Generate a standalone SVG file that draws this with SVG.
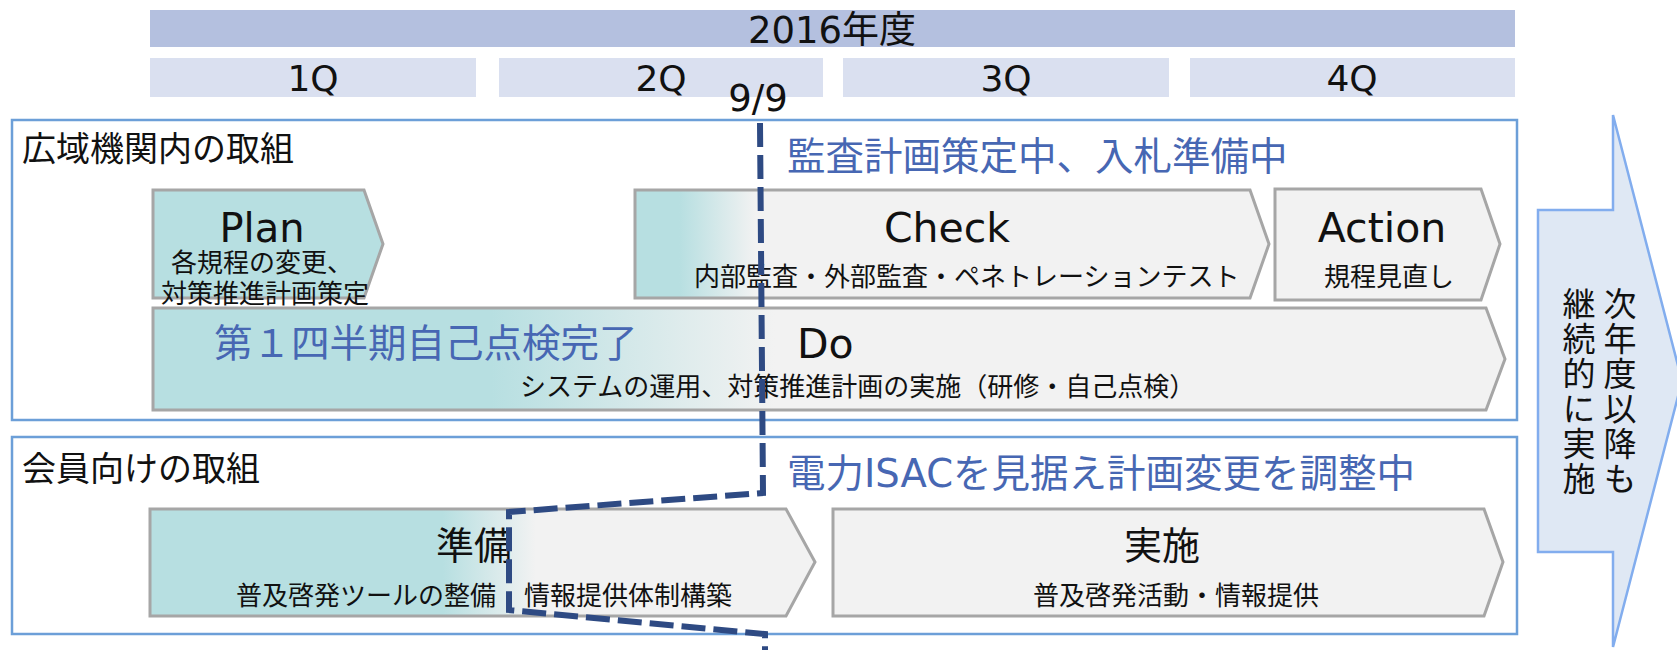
<svg xmlns="http://www.w3.org/2000/svg" width="1677" height="650" viewBox="0 0 1677 650">
<defs>
<style>
.lat{font-family:"DejaVu Sans","Noto Sans CJK JP",sans-serif;fill:#111;}
.jp{font-family:"Noto Sans CJK JP","DejaVu Sans",sans-serif;fill:#111;}
.blue{fill:#4767b3;}
.hdr{fill:#b4c0df;}
.qtr{fill:#dae0f0;}
.frame{fill:#fff;stroke:#6c9fd8;stroke-width:2.5;}
.step{stroke:#a6a6a6;stroke-width:3;stroke-linejoin:miter;}
.mid{text-anchor:middle;}
.vert{writing-mode:vertical-rl;letter-spacing:2px;}
</style>
<linearGradient id="gCheck" gradientUnits="userSpaceOnUse" x1="635" y1="0" x2="1269" y2="0">
<stop offset="0.07" stop-color="#b7dfe1"/>
<stop offset="0.19" stop-color="#f2f2f2"/>
</linearGradient>
<linearGradient id="gDo" gradientUnits="userSpaceOnUse" x1="153" y1="0" x2="1505" y2="0">
<stop offset="0.25" stop-color="#b7dfe1"/>
<stop offset="0.46" stop-color="#f2f2f2"/>
</linearGradient>
<linearGradient id="gPrep" gradientUnits="userSpaceOnUse" x1="150" y1="0" x2="815" y2="0">
<stop offset="0.44" stop-color="#b7dfe1"/>
<stop offset="0.58" stop-color="#f2f2f2"/>
</linearGradient>
</defs>
<rect width="1677" height="650" fill="#fff"/>

<g id="header">
<rect class="hdr" x="150" y="10" width="1365" height="37"/>
<text class="lat mid" x="832" y="43" font-size="37">2016年度</text>
<rect class="qtr" x="150" y="58" width="326" height="39"/>
<rect class="qtr" x="499" y="58" width="324" height="39"/>
<rect class="qtr" x="843" y="58" width="326" height="39"/>
<rect class="qtr" x="1190" y="58" width="325" height="39"/>
<text class="lat mid" x="313" y="91" font-size="36">1Q</text>
<text class="lat mid" x="661" y="91" font-size="36">2Q</text>
<text class="lat mid" x="1006" y="91" font-size="36">3Q</text>
<text class="lat mid" x="1352" y="91" font-size="36">4Q</text>
</g>

<g id="internal">
<rect class="frame" x="12" y="120" width="1505" height="300"/>
<text class="jp" x="22" y="161" font-size="34">広域機関内の取組</text>
<text class="jp blue" x="787" y="170" font-size="38.5">監査計画策定中、入札準備中</text>
</g>

<g id="plan">
<path class="step" fill="#b7dfe1" d="M153,190 L364,190 L383,244 L364,298 L153,298 Z"/>
<text class="lat mid" x="262" y="242" font-size="40">Plan</text>
<text class="jp" x="171" y="272" font-size="26">各規程の変更、</text>
<text class="jp" x="161" y="303" font-size="26">対策推進計画策定</text>
</g>

<g id="check">
<path class="step" fill="url(#gCheck)" d="M635,190 L1250,190 L1269,244 L1250,298 L635,298 Z"/>
<text class="lat mid" x="947" y="242" font-size="41">Check</text>
<text class="jp" x="694" y="286" font-size="26">内部監査・外部監査・ペネトレーションテスト</text>
</g>

<g id="action">
<path class="step" fill="#f2f2f2" d="M1275,189 L1481,189 L1500,244 L1481,300 L1275,300 Z"/>
<text class="lat mid" x="1382" y="242" font-size="41">Action</text>
<text class="jp mid" x="1389" y="286" font-size="26">規程見直し</text>
</g>

<g id="do">
<path class="step" fill="url(#gDo)" d="M153,308 L1486,308 L1505,359 L1486,410 L153,410 Z"/>
<text class="jp blue" x="214" y="357" font-size="38.5">第１四半期自己点検完了</text>
<text class="lat" x="797" y="358" font-size="41">Do</text>
<text class="jp" x="520" y="396" font-size="26">システムの運用、対策推進計画の実施（研修・自己点検）</text>
</g>

<g id="members">
<rect class="frame" x="12" y="437" width="1505" height="197"/>
<text class="jp" x="22" y="481" font-size="34">会員向けの取組</text>
<text class="lat blue" x="787" y="487" font-size="38.5">電力ISACを見据え計画変更を調整中</text>
</g>

<g id="prep">
<path class="step" fill="url(#gPrep)" d="M150,509 L786,509 L815,562 L786,616 L150,616 Z"/>
<text class="jp mid" x="474" y="559" font-size="38">準備</text>
<text class="jp" x="236" y="605" font-size="26">普及啓発ツールの整備</text>
<text class="jp" x="524" y="605" font-size="26">情報提供体制構築</text>
</g>

<g id="impl">
<path class="step" fill="#f2f2f2" d="M833,509 L1484,509 L1503,562 L1484,616 L833,616 Z"/>
<text class="jp mid" x="1162" y="559" font-size="38">実施</text>
<text class="jp" x="1033" y="605" font-size="26">普及啓発活動・情報提供</text>
</g>

<g id="next-year">
<path d="M1538,210 L1613,210 L1613,115 L1682,381 L1613,647 L1613,552 L1538,552 Z" fill="#dfe8f4" stroke="#82adee" stroke-width="2.5"/>
<text class="jp vert" x="1620" y="287" font-size="33">次年度以降も</text>
<text class="jp vert" x="1579" y="287" font-size="33">継続的に実施</text>
</g>

<g id="connectors">
<text class="lat mid" x="758" y="111" font-size="37">9/9</text>
<path d="M760,123 L763,493 L509,512 L509,610 L765,634 L765,650" fill="none" stroke="#2e4a83" stroke-width="6" stroke-dasharray="24 8"/>
</g>
</svg>
